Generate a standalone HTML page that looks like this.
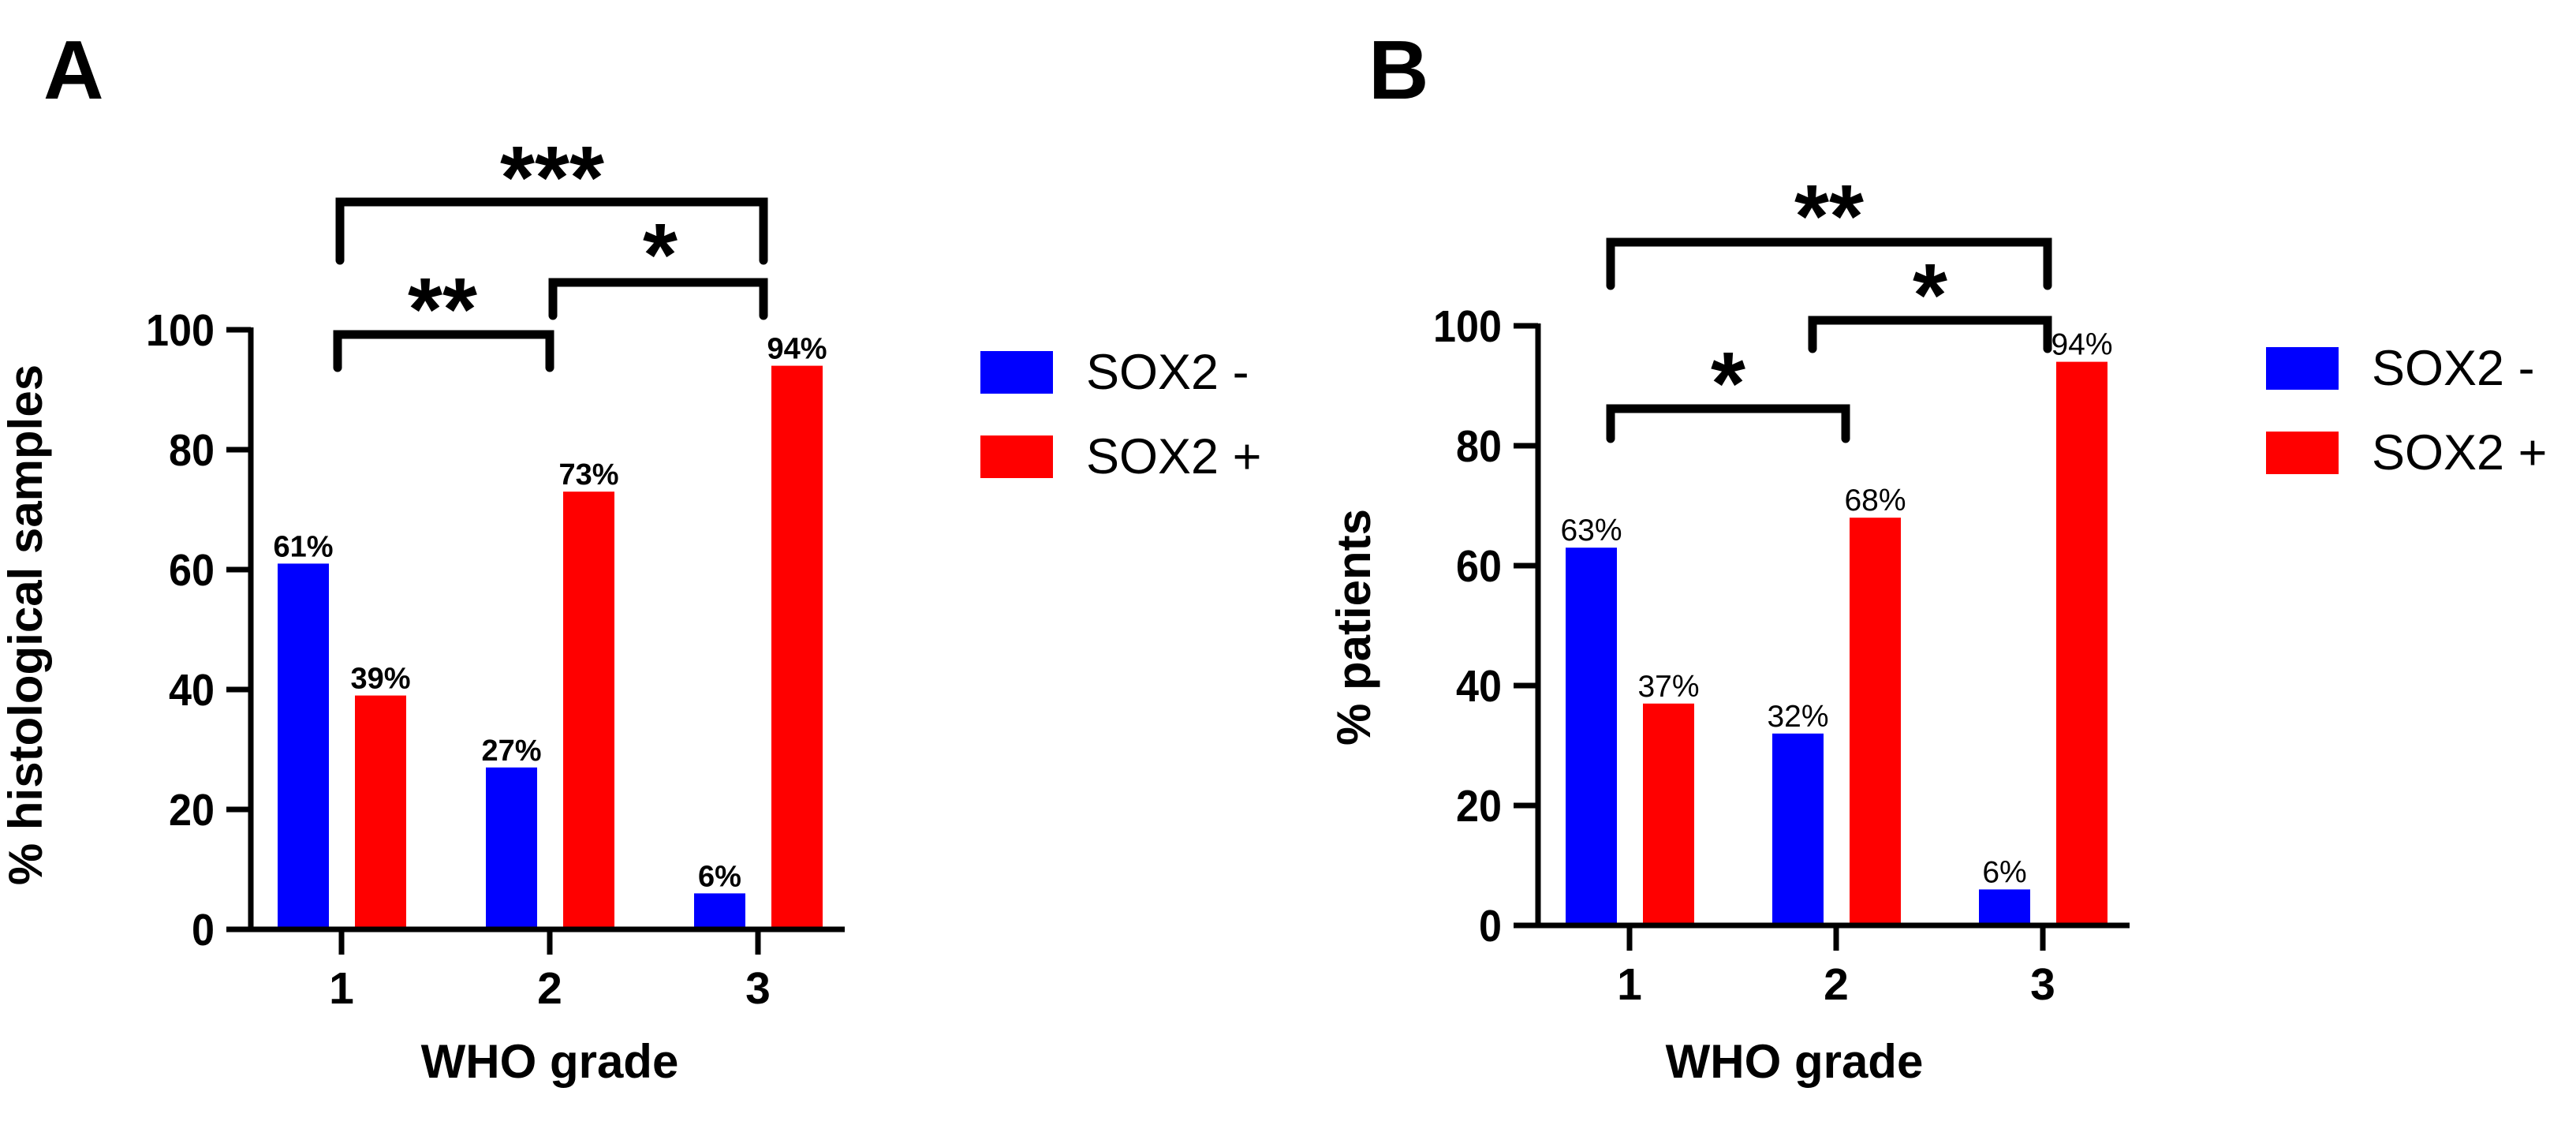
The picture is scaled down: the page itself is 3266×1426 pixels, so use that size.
<!DOCTYPE html>
<html><head><meta charset="utf-8"><title>SOX2 by WHO grade</title>
<style>
html,body{margin:0;padding:0;background:#fff;}
svg{display:block;font-family:"Liberation Sans",Arial,sans-serif;}
</style></head>
<body>
<svg id="fig" width="3266" height="1426" viewBox="0 0 3266 1426" xmlns="http://www.w3.org/2000/svg">
<rect width="3266" height="1426" fill="#fff"/>
</svg>
<script>
// ---- data ----
const grades = ["1", "2", "3"];
const seriesNames = ["SOX2 -", "SOX2 +"];
const aNeg = [61, 27, 6];
const aPos = [39, 73, 94];
const bNeg = [63, 32, 6];
const bPos = [37, 68, 94];
const yTicks = [0, 20, 40, 60, 80, 100];
const aSig = ["***", "*", "**"];
const bSig = ["**", "*", "*"];

const NS = "http://www.w3.org/2000/svg";
const svg = document.getElementById("fig");
function mk(tag, attrs, parent, text){
  const e = document.createElementNS(NS, tag);
  for (const k in attrs) e.setAttribute(k, attrs[k]);
  if (text !== undefined) e.textContent = text;
  (parent || svg).appendChild(e);
  return e;
}

function panel(cfg){
  const g = mk("g", {});
  
  
  const y = v => cfg.y0 - v * (cfg.y0 - cfg.y100) / 100;
  const x = i => cfg.gx0 + i * cfg.gstep;

  // panel letter
  const L = mk("text", {x: cfg.letterX, y: 125, "font-size": 106, "font-weight": "bold"}, g, cfg.letter);
  
  

  // bars
  [cfg.neg, cfg.pos].forEach((arr, s) => {
    arr.forEach((v, i) => {
      const x0 = x(i) + (s === 0 ? -81 : 17);
      const r = mk("rect", {x: x0, y: y(v), width: 65, height: cfg.y0 - y(v), fill: s === 0 ? "#0000ff" : "#ff0000"}, g);
      
      
      const t = mk("text", {x: x0 + 32.5, y: y(v) - 9, "text-anchor": "middle", "font-size": cfg.valBold ? 38 : 39, "font-weight": cfg.valBold ? "bold" : "normal"}, g, v + "%");
      
      
    });
  });

  // axes
  const ax = cfg.axisX;
  const yl = mk("line", {x1: ax, y1: cfg.y100 - 3, x2: ax, y2: cfg.y0 + 3, stroke: "#000", "stroke-width": 7}, g);
  
  
  const xl = mk("line", {x1: ax - 31, y1: cfg.y0, x2: x(2) + 110, y2: cfg.y0, stroke: "#000", "stroke-width": 7}, g);
  
  
  yTicks.forEach(v => {
    const tk = mk("line", {x1: ax - 31, y1: y(v), x2: ax, y2: y(v), stroke: "#000", "stroke-width": 7}, g);
    
    
    const s = String(v);
    const tl = mk("text", {x: ax - 46, y: y(v) + 20, "text-anchor": "end", "font-size": 57, "font-weight": "bold", textLength: 29 * s.length, lengthAdjust: "spacingAndGlyphs"}, g, s);
    
    
  });
  grades.forEach((gr, i) => {
    const tk = mk("line", {x1: x(i), y1: cfg.y0, x2: x(i), y2: cfg.y0 + 32, stroke: "#000", "stroke-width": 7}, g);
    
    
    const tl = mk("text", {x: x(i), y: cfg.y0 + 94, "text-anchor": "middle", "font-size": 57, "font-weight": "bold"}, g, gr);
    
    
  });
  const xt = mk("text", {x: cfg.xTitleX, y: 1366, "text-anchor": "middle", "font-size": 60, "font-weight": "bold"}, g, "WHO grade");
  
  
  const yt = mk("text", {x: 0, y: 0, "text-anchor": "middle", "font-size": 60, "font-weight": "bold", transform: "translate(" + (cfg.yTitleX + 21) + "," + cfg.yTitleY + ") rotate(-90)"}, g, cfg.yTitle);
  
  

  // significance brackets
  cfg.brackets.forEach((b, k) => {
    const p = mk("path", {d: "M" + b.x1 + "," + b.yb + " V" + b.y + " H" + b.x2 + " V" + b.yb, fill: "none", stroke: "#000", "stroke-width": 11, "stroke-linecap": "round", "stroke-linejoin": "miter"}, g);
    
    
    const st = mk("text", {x: b.sx, y: b.sy + 63, "text-anchor": "middle", "font-size": 113, "font-weight": "bold"}, g, cfg.sig[k]);
    
    
  });

  // legend
  const lg = mk("g", {}, g);
  
  
  seriesNames.forEach((n, s) => {
    const top = cfg.legY + s * 107;
    const sw = mk("rect", {x: cfg.legX, y: top, width: 92, height: 54, fill: s === 0 ? "#0000ff" : "#ff0000"}, lg);
    
    
    const lt = mk("text", {x: cfg.legX + 134, y: top + 48, "font-size": 63}, lg, n);
    
    
  });
}

panel({
  name: "panel-a", letter: "A", letterX: 55,
  neg: aNeg, pos: aPos, valBold: true, sig: aSig,
  y0: 1178, y100: 418, gx0: 433, gstep: 264, axisX: 318,
  xTitleX: 697, yTitleX: 32, yTitleY: 792, yTitle: "% histological samples",
  legX: 1243, legY: 445,
  brackets: [
    {x1: 431, x2: 968, y: 256, yb: 330, sx: 700, sy: 201},
    {x1: 701, x2: 968, y: 358, yb: 400, sx: 837, sy: 299},
    {x1: 428, x2: 697, y: 424, yb: 466, sx: 561, sy: 368}
  ]
});
panel({
  name: "panel-b", letter: "B", letterX: 1735,
  neg: bNeg, pos: bPos, valBold: false, sig: bSig,
  y0: 1173, y100: 413, gx0: 2066, gstep: 262, axisX: 1950,
  xTitleX: 2275, yTitleX: 1716, yTitleY: 795, yTitle: "% patients",
  legX: 2873, legY: 440,
  brackets: [
    {x1: 2042, x2: 2596, y: 307, yb: 362, sx: 2319, sy: 250},
    {x1: 2298, x2: 2596, y: 406, yb: 442, sx: 2447, sy: 350},
    {x1: 2042, x2: 2340, y: 518, yb: 556, sx: 2191, sy: 462}
  ]
});
</script>
</body></html>
